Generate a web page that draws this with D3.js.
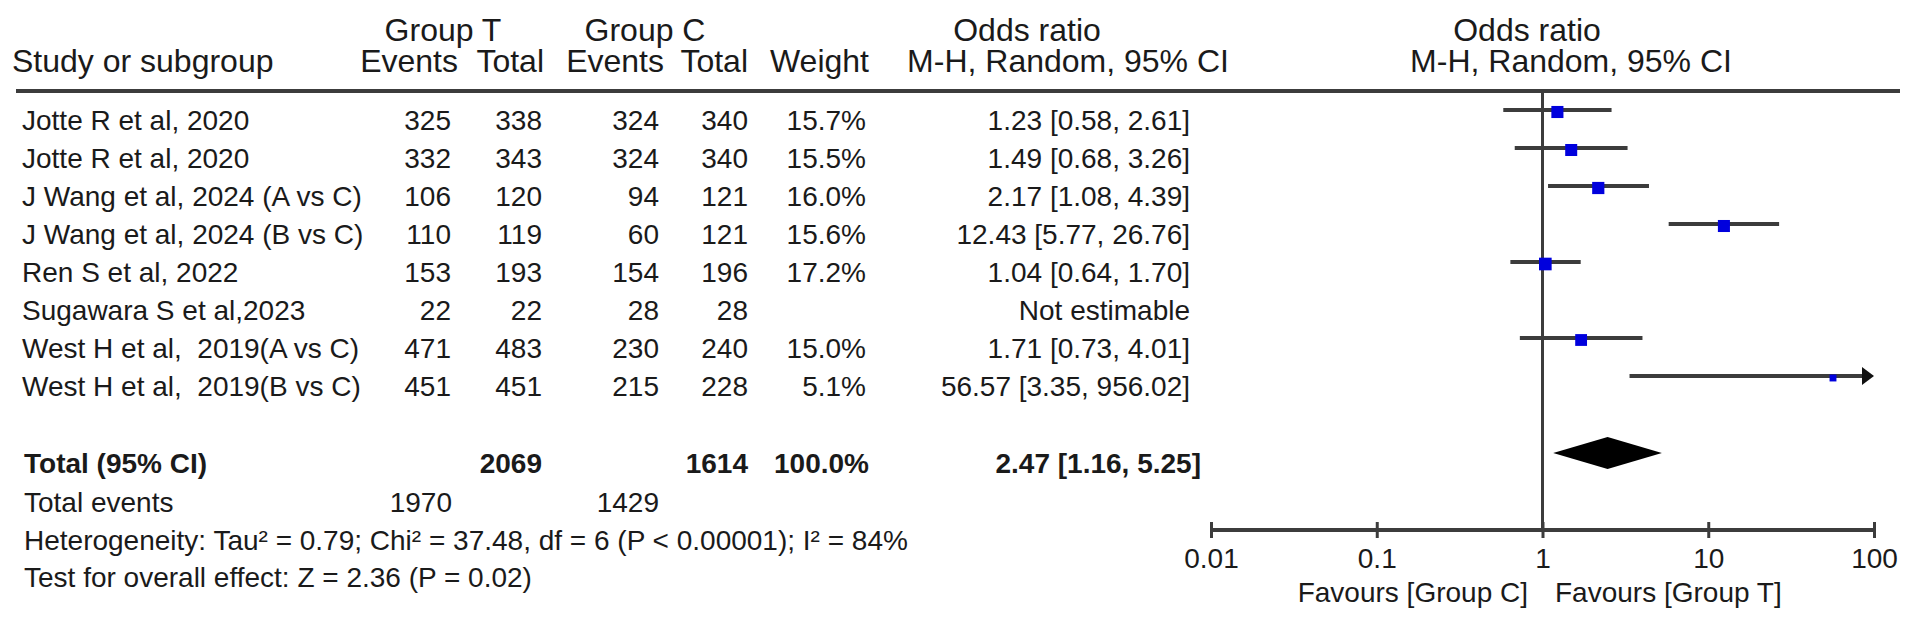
<!DOCTYPE html>
<html>
<head>
    <meta charset="utf-8">
    <title>Forest plot</title>
    <style type="text/css">
        body {
            margin: 0;
            background: #fff;
        }

        text {
            font-family: "Liberation Sans", Arial, sans-serif;
            fill: #1a1a1a;
            white-space: pre;
        }

        .head {
            font-size: 32px;
        }

        .body {
            font-size: 28px;
        }

        .bold {
            font-weight: bold;
        }
    </style>
</head>
<body>
<script src="https://cdn.jsdelivr.net/npm/d3@7"></script>
<script type="text/javascript">
    // study rows
    var studies = ["Jotte R et al, 2020", "Jotte R et al, 2020", "J Wang et al, 2024 (A vs C)",
        "J Wang et al, 2024 (B vs C)", "Ren S et al, 2022", "Sugawara S et al,2023",
        "West H et al,  2019(A vs C)", "West H et al,  2019(B vs C)"];
    var eventsT = [325, 332, 106, 110, 153, 22, 471, 451];
    var totalT = [338, 343, 120, 119, 193, 22, 483, 451];
    var eventsC = [324, 324, 94, 60, 154, 28, 230, 215];
    var totalC = [340, 340, 121, 121, 196, 28, 240, 228];
    var weights = [15.7, 15.5, 16.0, 15.6, 17.2, null, 15.0, 5.1];
    var oddsRatio = [1.23, 1.49, 2.17, 12.43, 1.04, null, 1.71, 56.57];
    var ciLow = [0.58, 0.68, 1.08, 5.77, 0.64, null, 0.73, 3.35];
    var ciHigh = [2.61, 3.26, 4.39, 26.76, 1.70, null, 4.01, 956.02];

    // pooled result
    var pooled = {or: 2.47, lo: 1.16, hi: 5.25};
    var pooledTotals = [2069, 1614];
    var pooledEvents = [1970, 1429];
    var heterogeneity = "Heterogeneity: Tau\u00b2 = 0.79; Chi\u00b2 = 37.48, df = 6 (P < 0.00001); I\u00b2 = 84%";
    var overallTest = "Test for overall effect: Z = 2.36 (P = 0.02)";

    // axis
    var tickValues = [0.01, 0.1, 1, 10, 100];
    var tickLabels = ["0.01", "0.1", "1", "10", "100"];

    var W = 1913, H = 624;
    var lineColor = "#3c3c3c";

    var svg = d3.select("body").append("svg")
        .attr("width", W)
        .attr("height", H);

    var x = d3.scaleLog().domain([0.01, 100]).range([1211, 1874]);
    var y = d3.scaleLinear().domain([0, 7]).range([110, 376]); // CI line of each row
    var textOff = 20; // baseline below CI line
    var size = function (w) { return 3.05 * Math.sqrt(w); };

    function fmt(v) { return v.toFixed(2); }

    // ---- headers
    var heads = [
        {t: "Group T", x: 443, y: 41, a: "middle"},
        {t: "Group C", x: 645, y: 41, a: "middle"},
        {t: "Odds ratio", x: 1027, y: 41, a: "middle"},
        {t: "Odds ratio", x: 1527, y: 41, a: "middle"},
        {t: "Study or subgroup", x: 12, y: 72, a: "start"},
        {t: "Events", x: 458, y: 72, a: "end"},
        {t: "Total", x: 544, y: 72, a: "end"},
        {t: "Events", x: 664, y: 72, a: "end"},
        {t: "Total", x: 748, y: 72, a: "end"},
        {t: "Weight", x: 869, y: 72, a: "end"},
        {t: "M-H, Random, 95% CI", x: 1068, y: 72, a: "middle"},
        {t: "M-H, Random, 95% CI", x: 1571, y: 72, a: "middle"}
    ];
    svg.selectAll("text.head").data(heads).enter()
        .append("text")
        .attr("class", "head")
        .attr("x", function (d) { return d.x; })
        .attr("y", function (d) { return d.y; })
        .attr("text-anchor", function (d) { return d.a; })
        .text(function (d) { return d.t; });

    svg.append("line")
        .attr("x1", 16).attr("x2", 1900)
        .attr("y1", 91).attr("y2", 91)
        .attr("stroke", lineColor).attr("stroke-width", 4);

    // ---- table columns
    var cols = [
        {v: eventsT, x: 451},
        {v: totalT, x: 542},
        {v: eventsC, x: 659},
        {v: totalC, x: 748},
        {v: weights.map(function (w) { return w == null ? "" : w.toFixed(1) + "%"; }), x: 866},
        {v: oddsRatio.map(function (o, i) {
            return o == null ? "Not estimable" : fmt(o) + " [" + fmt(ciLow[i]) + ", " + fmt(ciHigh[i]) + "]";
        }), x: 1190}
    ];

    svg.selectAll("text.label").data(studies).enter()
        .append("text")
        .attr("class", "body label")
        .attr("x", 22)
        .attr("y", function (d, i) { return y(i) + textOff; })
        .text(function (d) { return d; });

    cols.forEach(function (c) {
        svg.append("g").selectAll("text").data(c.v).enter()
            .append("text")
            .attr("class", "body")
            .attr("x", c.x)
            .attr("y", function (d, i) { return y(i) + textOff; })
            .attr("text-anchor", "end")
            .text(function (d) { return d; });
    });

    // ---- totals
    var yTot = y(7) + 77;
    var totRow = svg.append("g");
    totRow.append("text").attr("class", "body bold").attr("x", 24).attr("y", yTot + textOff).text("Total (95% CI)");
    totRow.append("text").attr("class", "body bold").attr("x", 542).attr("y", yTot + textOff)
        .attr("text-anchor", "end").text(pooledTotals[0]);
    totRow.append("text").attr("class", "body bold").attr("x", 748).attr("y", yTot + textOff)
        .attr("text-anchor", "end").text(pooledTotals[1]);
    totRow.append("text").attr("class", "body bold").attr("x", 869).attr("y", yTot + textOff)
        .attr("text-anchor", "end").text("100.0%");
    totRow.append("text").attr("class", "body bold").attr("x", 1201).attr("y", yTot + textOff)
        .attr("text-anchor", "end").text(fmt(pooled.or) + " [" + fmt(pooled.lo) + ", " + fmt(pooled.hi) + "]");

    svg.append("text").attr("class", "body").attr("x", 24).attr("y", 512).text("Total events");
    svg.append("text").attr("class", "body").attr("x", 452).attr("y", 512)
        .attr("text-anchor", "end").text(pooledEvents[0]);
    svg.append("text").attr("class", "body").attr("x", 659).attr("y", 512)
        .attr("text-anchor", "end").text(pooledEvents[1]);
    svg.append("text").attr("class", "body").attr("x", 24).attr("y", 550).text(heterogeneity);
    svg.append("text").attr("class", "body").attr("x", 24).attr("y", 587).text(overallTest);

    // ---- plot
    var axisY = 530;
    svg.append("line")
        .attr("x1", x(1)).attr("x2", x(1))
        .attr("y1", 91).attr("y2", axisY)
        .attr("stroke", lineColor).attr("stroke-width", 3);

    var idx = d3.range(studies.length).filter(function (i) { return oddsRatio[i] != null; });

    svg.append("g").selectAll("line").data(idx).enter()
        .append("line")
        .attr("x1", function (i) { return x(Math.max(ciLow[i], 0.01)); })
        .attr("x2", function (i) { return ciHigh[i] > 100 ? x(100) - 8 : x(ciHigh[i]); })
        .attr("y1", function (i) { return y(i); })
        .attr("y2", function (i) { return y(i); })
        .attr("stroke", lineColor).attr("stroke-width", 4);

    // arrow heads for clipped intervals
    svg.append("g").selectAll("path").data(idx.filter(function (i) { return ciHigh[i] > 100; })).enter()
        .append("path")
        .attr("d", function (i) {
            var xe = x(100), yy = y(i);
            return "M" + (xe - 12) + "," + (yy - 9) + "L" + xe + "," + yy + "L" + (xe - 12) + "," + (yy + 9) + "Z";
        })
        .attr("fill", "#111");

    svg.append("g").selectAll("rect").data(idx).enter()
        .append("rect")
        .attr("x", function (i) { return x(oddsRatio[i]) - size(weights[i]) / 2; })
        .attr("y", function (i) { return y(i) + 2 - size(weights[i]) / 2; })
        .attr("width", function (i) { return size(weights[i]); })
        .attr("height", function (i) { return size(weights[i]); })
        .attr("fill", "#0000dd");

    // pooled diamond
    var yD = yTot;
    svg.append("path")
        .attr("d", "M" + x(pooled.lo) + "," + yD +
            "L" + x(pooled.or) + "," + (yD - 16) +
            "L" + x(pooled.hi) + "," + yD +
            "L" + x(pooled.or) + "," + (yD + 16) + "Z")
        .attr("fill", "#000");

    // axis
    var axis = d3.axisBottom(x)
        .tickValues(tickValues)
        .tickFormat(function (d, i) { return tickLabels[i]; })
        .tickSize(0)
        .tickPadding(18);

    var ag = svg.append("g")
        .attr("transform", "translate(0," + axisY + ")")
        .call(axis);
    ag.select(".domain").remove();
    ag.append("line")
        .attr("x1", x(0.01)).attr("x2", x(100))
        .attr("stroke", lineColor).attr("stroke-width", 4);
    ag.selectAll(".tick line")
        .attr("y1", -8).attr("y2", 8)
        .attr("stroke", lineColor).attr("stroke-width", 3);
    ag.selectAll(".tick text")
        .attr("class", "body")
        .style("font-size", "28px")
        .style("font-family", "'Liberation Sans', Arial, sans-serif")
        .attr("fill", "#1a1a1a");

    svg.append("text").attr("class", "body").attr("x", 1528).attr("y", 602)
        .attr("text-anchor", "end").text("Favours [Group C]");
    svg.append("text").attr("class", "body").attr("x", 1555).attr("y", 602)
        .text("Favours [Group T]");
</script>
</body>
</html>
